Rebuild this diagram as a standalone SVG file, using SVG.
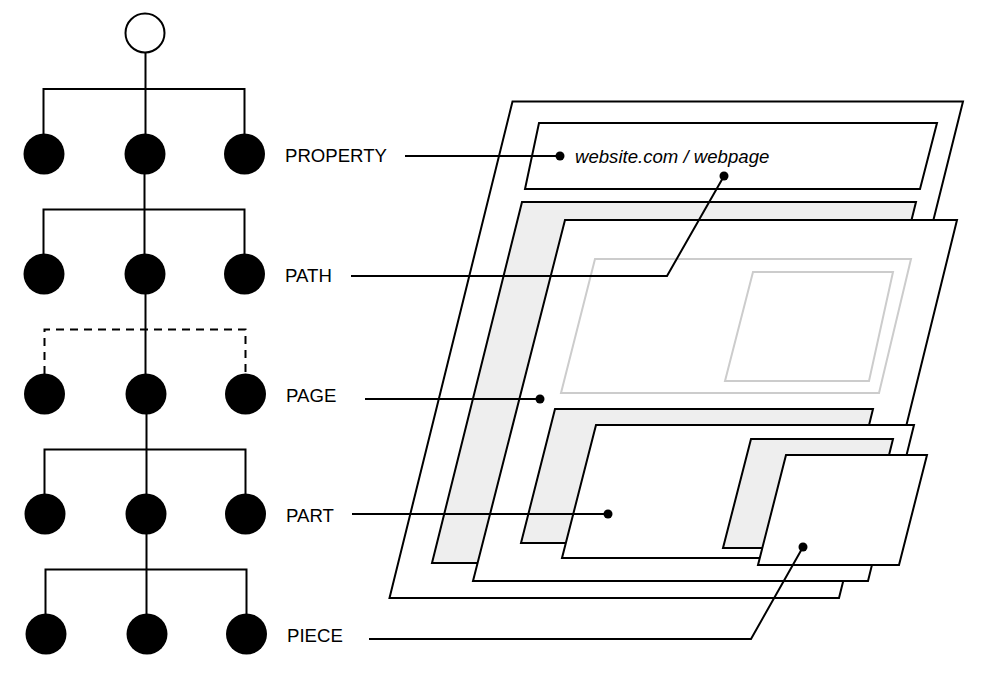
<svg xmlns="http://www.w3.org/2000/svg" width="990" height="690" viewBox="0 0 990 690">
<style>
.l{fill:none;stroke:#000;stroke-width:2}
.d{stroke-dasharray:8 6}
.n{fill:#000}
.o{fill:#fff;stroke:#000;stroke-width:2}
.s{fill:#eee;stroke:#000;stroke-width:2}
.g{fill:#fff;stroke:#ccc;stroke-width:2}
text{font-family:"Liberation Sans",Arial,sans-serif;font-size:18.6px;fill:#000}
</style>
<rect width="990" height="690" fill="#fff"/>
<g id="tree-links">
<path class="l" d="M145.500 52V134M43.500 134V89H244.500V134"/>
<path class="l" d="M144.500 170V254M43.500 254V209.500H244.500V254"/>
<path class="l" d="M145.500 290V374"/>
<path class="l d" d="M44.500 374V329.500H245.500V374"/>
<path class="l" d="M146.500 410V494M44.500 494V449.500H245.500V494"/>
<path class="l" d="M146.500 530V614M45.500 614V569.500H246.500V614"/>
</g>
<g id="root"><circle class="o" cx="145" cy="33" r="19.500"/></g>
<g id="property-nodes"><circle class="n" cx="44" cy="154" r="20.500"/><circle class="n" cx="145" cy="154" r="20.500"/><circle class="n" cx="244.500" cy="154" r="20.500"/></g>
<g id="path-nodes"><circle class="n" cx="44" cy="274" r="20.500"/><circle class="n" cx="145" cy="274" r="20.500"/><circle class="n" cx="244.500" cy="274" r="20.500"/></g>
<g id="page-nodes"><circle class="n" cx="44.500" cy="394" r="20.500"/><circle class="n" cx="146" cy="394" r="20.500"/><circle class="n" cx="245.500" cy="394" r="20.500"/></g>
<g id="part-nodes"><circle class="n" cx="45" cy="514" r="20.500"/><circle class="n" cx="146" cy="514" r="20.500"/><circle class="n" cx="245.500" cy="514" r="20.500"/></g>
<g id="piece-nodes"><circle class="n" cx="46" cy="634" r="20.500"/><circle class="n" cx="147" cy="634" r="20.500"/><circle class="n" cx="246.500" cy="634" r="20.500"/></g>
<g id="labels">
<text x="285" y="162">PROPERTY</text>
<text x="285" y="282">PATH</text>
<text x="286" y="402">PAGE</text>
<text x="286" y="522">PART</text>
<text x="287" y="642">PIECE</text>
</g>
<g id="property-layer"><polygon class="o" points="512.500,101.500 963,101.500 839,598 389.500,598"/></g>
<g id="url-box"><polygon class="o" points="539,123 937,123 920,189 525,189"/>
<text x="575" y="163" style="font-style:italic">website.com / webpage</text></g>
<g id="page-layer">
<polygon class="s" points="522,202 916,202 826,563 432,563"/>
<polygon class="o" points="565,220 957,220 868,581 473,581"/>
<polygon class="g" points="595,259 911,259 879,393 561,393"/>
<polygon class="g" points="753,272 893,272 869,381 725,381"/>
</g>
<g id="part-layer">
<polygon class="s" points="555,409 873,409 840,543 521,543"/>
<polygon class="o" points="596,425 914,425 881,558 562,558"/>
</g>
<g id="piece-layer">
<polygon class="s" points="751,439 893,439 866,548 723,548"/>
<polygon class="o" points="786,455 927,455 899,565 758,565"/>
</g>
<g id="connectors">
<path class="l" d="M405 156H560"/><circle class="n" cx="560" cy="156" r="4.500"/>
<path class="l" d="M351 276H667L724 176"/><circle class="n" cx="724" cy="176" r="4.500"/>
<path class="l" d="M365 399H540"/><circle class="n" cx="540" cy="399" r="4.500"/>
<path class="l" d="M352 514H608"/><circle class="n" cx="608" cy="514" r="4.500"/>
<path class="l" d="M369 639H751L803 547"/><circle class="n" cx="803" cy="547" r="4.500"/>
</g>
</svg>
